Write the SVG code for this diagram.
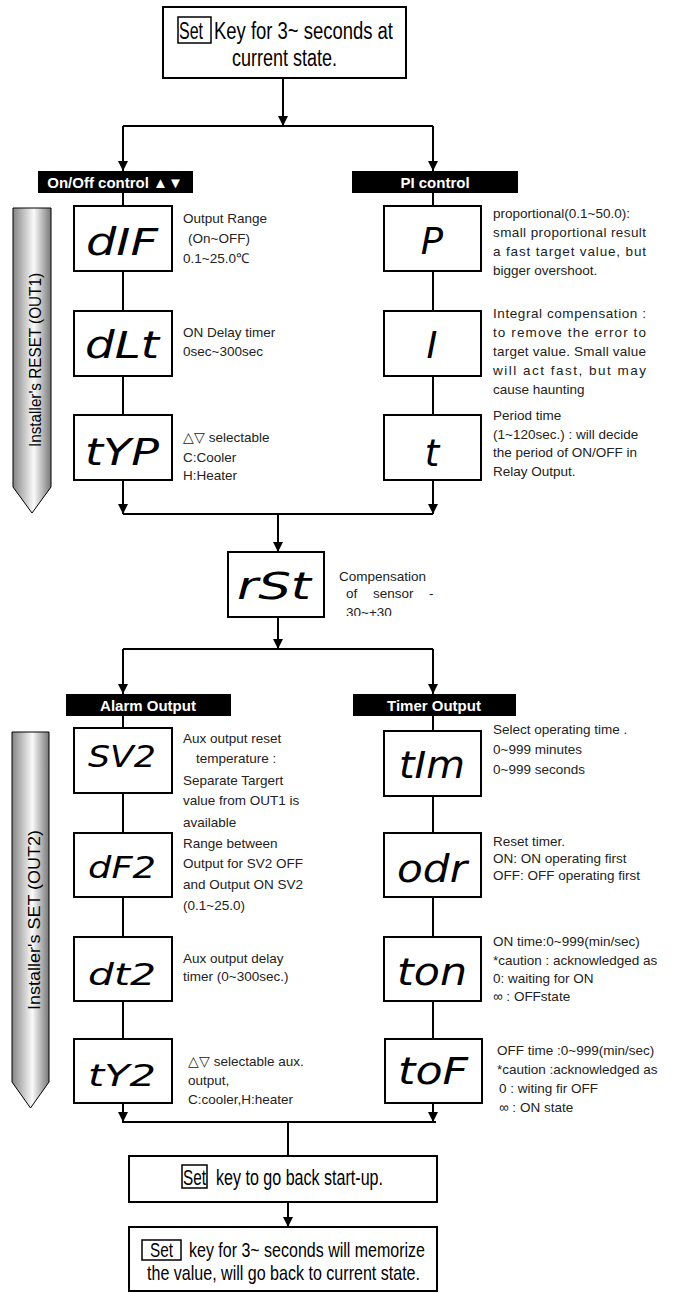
<svg xmlns="http://www.w3.org/2000/svg" width="676" height="1293" viewBox="0 0 676 1293">
<style>
.box{fill:#fff;stroke:#000;stroke-width:2}
.bar{fill:#000}
.bart{font-family:"Liberation Sans",Arial,sans-serif;font-size:15px;font-weight:bold;fill:#fff;text-anchor:middle}
.seg{font-family:"DejaVu Sans",sans-serif;font-style:italic;font-size:37px;fill:#000;text-anchor:middle}
.segs{font-family:"DejaVu Sans",sans-serif;font-style:italic;font-size:30px;fill:#000;text-anchor:middle}
.d{font-family:"Liberation Sans",Arial,sans-serif;font-size:13.5px;fill:#222}
.big{font-family:"Liberation Sans",Arial,sans-serif;fill:#000}
.side{font-family:"Liberation Sans",Arial,sans-serif;font-size:17px;fill:#000;text-anchor:middle}
.con{fill:none;stroke:#000;stroke-width:2}
.keyb{fill:none;stroke:#000;stroke-width:1.5}
</style>
<defs>
<marker id="ah" viewBox="0 0 10 10" refX="10" refY="5" markerWidth="10" markerHeight="11" markerUnits="userSpaceOnUse" orient="auto">
<path d="M0,0 L10,5 L0,10 z" fill="#000"/>
</marker>
<linearGradient id="sg" x1="0" y1="0" x2="1" y2="0">
<stop offset="0" stop-color="#858585"/>
<stop offset="0.55" stop-color="#fafafa"/>
<stop offset="1" stop-color="#777"/>
</linearGradient>
<clipPath id="rstclip"><rect x="330" y="560" width="120" height="56"/></clipPath>
</defs>

<g id="connectors">
<path class="con" d="M283,78 V126" marker-end="url(#ah)"/>
<path class="con" d="M123,126 H433"/>
<path class="con" d="M123,126 V171" marker-end="url(#ah)"/>
<path class="con" d="M433,126 V171" marker-end="url(#ah)"/>
<path class="con" d="M123,193 V206 M123,271 V311 M123,376 V415"/>
<path class="con" d="M123,480 V514" marker-end="url(#ah)"/>
<path class="con" d="M433,193 V206 M433,271 V311 M433,376 V415"/>
<path class="con" d="M433,480 V514" marker-end="url(#ah)"/>
<path class="con" d="M123,514 H433"/>
<path class="con" d="M278,514 V552" marker-end="url(#ah)"/>
<path class="con" d="M278,617 V649" marker-end="url(#ah)"/>
<path class="con" d="M123,649 H433"/>
<path class="con" d="M123,649 V694" marker-end="url(#ah)"/>
<path class="con" d="M433,649 V694" marker-end="url(#ah)"/>
<path class="con" d="M123,716 V728 M123,793 V833 M123,897 V937 M123,1001 V1039"/>
<path class="con" d="M123,1103 V1122" marker-end="url(#ah)"/>
<path class="con" d="M433,716 V731 M433,796 V833 M433,897 V937 M433,1001 V1039"/>
<path class="con" d="M433,1103 V1122" marker-end="url(#ah)"/>
<path class="con" d="M122,1122 H436"/>
<path class="con" d="M288,1122 V1156"/>
<path class="con" d="M288,1202 V1227" marker-end="url(#ah)"/>
</g>

<g id="start">
<rect class="box" x="163" y="7" width="243" height="71"/>
<rect class="keyb" x="178" y="17" width="33" height="26"/>
<text class="big" x="179" y="39" font-size="23" textLength="24" lengthAdjust="spacingAndGlyphs">Set</text>
<text class="big" x="214" y="39" font-size="23" textLength="179" lengthAdjust="spacingAndGlyphs">Key for 3~ seconds at</text>
<text class="big" x="232" y="66" font-size="23" textLength="105" lengthAdjust="spacingAndGlyphs">current state.</text>
</g>

<g id="side1">
<path d="M13,208 H51 V487 L32,513 L13,487 Z" fill="url(#sg)" stroke="#000" stroke-width="1"/>
<text class="side" x="41" y="360" transform="rotate(-90 41 360)" textLength="174" lengthAdjust="spacingAndGlyphs">Installer's RESET (OUT1)</text>
</g>

<g id="onoff">
<rect class="bar" x="38" y="171" width="155" height="22"/>
<text class="bart" x="115" y="188">On/Off control ▲▼</text>
</g>
<g id="pi">
<rect class="bar" x="352" y="171" width="166" height="22"/>
<text class="bart" x="435" y="188">PI control</text>
</g>

<g id="dif">
<rect class="box" x="74" y="206" width="98" height="65"/>
<text class="seg" x="122" y="255" textLength="72" lengthAdjust="spacingAndGlyphs">dIF</text>
<text class="d" x="183" y="223">Output Range</text>
<text class="d" x="188" y="243">(On~OFF)</text>
<text class="d" x="183" y="263">0.1~25.0℃</text>
</g>
<g id="dlt">
<rect class="box" x="74" y="311" width="98" height="65"/>
<text class="seg" x="122" y="358" textLength="74" lengthAdjust="spacingAndGlyphs">dLt</text>
<text class="d" x="183" y="337">ON Delay timer</text>
<text class="d" x="183" y="356">0sec~300sec</text>
</g>
<g id="typ">
<rect class="box" x="74" y="415" width="98" height="65"/>
<text class="seg" x="122" y="465" textLength="74" lengthAdjust="spacingAndGlyphs">tYP</text>
<text class="d" x="183" y="442">△▽ selectable</text>
<text class="d" x="183" y="462">C:Cooler</text>
<text class="d" x="183" y="480">H:Heater</text>
</g>

<g id="p">
<rect class="box" x="384" y="206" width="97" height="65"/>
<text class="seg" x="432" y="254">P</text>
<text class="d" x="493" y="218">proportional(0.1~50.0):</text>
<text class="d" x="493" y="237" textLength="153" lengthAdjust="spacing">small proportional result</text>
<text class="d" x="493" y="256" textLength="153" lengthAdjust="spacing">a fast target value, but</text>
<text class="d" x="493" y="275">bigger overshoot.</text>
</g>
<g id="i">
<rect class="box" x="384" y="311" width="97" height="65"/>
<text class="seg" x="432" y="358">I</text>
<text class="d" x="493" y="318" textLength="153" lengthAdjust="spacing">Integral compensation :</text>
<text class="d" x="493" y="337" textLength="153" lengthAdjust="spacing">to remove the error to</text>
<text class="d" x="493" y="356" textLength="153" lengthAdjust="spacing">target value. Small value</text>
<text class="d" x="493" y="375" textLength="153" lengthAdjust="spacing">will act fast, but may</text>
<text class="d" x="493" y="394">cause haunting</text>
</g>
<g id="t">
<rect class="box" x="384" y="415" width="97" height="65"/>
<text class="seg" x="432" y="466">t</text>
<text class="d" x="493" y="420">Period time</text>
<text class="d" x="493" y="439">(1~120sec.) : will decide</text>
<text class="d" x="493" y="457">the period of ON/OFF in</text>
<text class="d" x="493" y="476">Relay Output.</text>
</g>

<g id="rst">
<rect class="box" x="228" y="552" width="96" height="65"/>
<text class="seg" x="274" y="599" textLength="74" lengthAdjust="spacingAndGlyphs">rSt</text>
<text class="d" x="339" y="581">Compensation</text>
<text class="d" y="598"><tspan x="346">of</tspan><tspan x="373">sensor</tspan><tspan x="429">-</tspan></text>
<text class="d" x="346" y="617" clip-path="url(#rstclip)">30~+30</text>
</g>

<g id="side2">
<path d="M12,732 H49 V1082 L30.5,1108 L12,1082 Z" fill="url(#sg)" stroke="#000" stroke-width="1"/>
<text class="side" x="40" y="920" transform="rotate(-90 40 920)" textLength="180" lengthAdjust="spacingAndGlyphs">Installer's SET (OUT2)</text>
</g>

<g id="alarm">
<rect class="bar" x="66" y="694" width="165" height="22"/>
<text class="bart" x="148" y="711">Alarm Output</text>
</g>
<g id="timer">
<rect class="bar" x="353" y="694" width="163" height="22"/>
<text class="bart" x="434" y="711">Timer Output</text>
</g>

<g id="sv2">
<rect class="box" x="74" y="728" width="98" height="65"/>
<text class="segs" x="122" y="767" textLength="68" lengthAdjust="spacingAndGlyphs">SV2</text>
<text class="d" x="183" y="743">Aux output reset</text>
<text class="d" x="196" y="763">temperature :</text>
<text class="d" x="183" y="785">Separate Targert</text>
<text class="d" x="183" y="805">value from OUT1 is</text>
<text class="d" x="183" y="827">available</text>
</g>
<g id="df2">
<rect class="box" x="74" y="833" width="98" height="64"/>
<text class="segs" x="122" y="878" textLength="68" lengthAdjust="spacingAndGlyphs">dF2</text>
<text class="d" x="183" y="848">Range between</text>
<text class="d" x="183" y="868">Output for SV2 OFF</text>
<text class="d" x="183" y="889">and Output ON SV2</text>
<text class="d" x="183" y="910">(0.1~25.0)</text>
</g>
<g id="dt2">
<rect class="box" x="74" y="937" width="98" height="64"/>
<text class="segs" x="122" y="985" textLength="68" lengthAdjust="spacingAndGlyphs">dt2</text>
<text class="d" x="183" y="963">Aux output delay</text>
<text class="d" x="183" y="981">timer (0~300sec.)</text>
</g>
<g id="ty2">
<rect class="box" x="74" y="1039" width="98" height="64"/>
<text class="segs" x="122" y="1086" textLength="68" lengthAdjust="spacingAndGlyphs">tY2</text>
<text class="d" x="188" y="1066">△▽  selectable aux.</text>
<text class="d" x="188" y="1085">output,</text>
<text class="d" x="188" y="1104">C:cooler,H:heater</text>
</g>

<g id="tim">
<rect class="box" x="384" y="731" width="97" height="65"/>
<text class="seg" x="432" y="778" textLength="66" lengthAdjust="spacingAndGlyphs">tIm</text>
<text class="d" x="493" y="734">Select operating time .</text>
<text class="d" x="493" y="754">0~999 minutes</text>
<text class="d" x="493" y="774">0~999 seconds</text>
</g>
<g id="odr">
<rect class="box" x="384" y="833" width="97" height="64"/>
<text class="seg" x="432" y="882" textLength="70" lengthAdjust="spacingAndGlyphs">odr</text>
<text class="d" x="493" y="846">Reset timer.</text>
<text class="d" x="493" y="863">ON: ON operating first</text>
<text class="d" x="493" y="880">OFF: OFF operating first</text>
</g>
<g id="ton">
<rect class="box" x="384" y="937" width="97" height="64"/>
<text class="seg" x="432" y="985" textLength="70" lengthAdjust="spacingAndGlyphs">ton</text>
<text class="d" x="493" y="946">ON time:0~999(min/sec)</text>
<text class="d" x="493" y="965">*caution : acknowledged as</text>
<text class="d" x="493" y="983">0: waiting for ON</text>
<text class="d" x="493" y="1001">∞ : OFFstate</text>
</g>
<g id="tof">
<rect class="box" x="385" y="1039" width="97" height="64"/>
<text class="seg" x="433" y="1084" textLength="70" lengthAdjust="spacingAndGlyphs">toF</text>
<text class="d" x="497" y="1055">OFF time :0~999(min/sec)</text>
<text class="d" x="497" y="1074">*caution :acknowledged as</text>
<text class="d" x="499" y="1093">0 : witing fir OFF</text>
<text class="d" x="499" y="1112">∞ : ON state</text>
</g>

<g id="back">
<rect class="box" x="129" y="1156" width="308" height="46"/>
<rect class="keyb" x="182" y="1165" width="25" height="23"/>
<text class="big" x="183" y="1185" font-size="22" textLength="23" lengthAdjust="spacingAndGlyphs">Set</text>
<text class="big" x="216" y="1185" font-size="22" textLength="167" lengthAdjust="spacingAndGlyphs">key to go back start-up.</text>
</g>

<g id="memorize">
<rect class="box" x="129" y="1227" width="308" height="64"/>
<rect class="keyb" x="142" y="1240" width="39" height="20"/>
<text class="big" x="150" y="1257" font-size="21" textLength="23" lengthAdjust="spacingAndGlyphs">Set</text>
<text class="big" x="189" y="1257" font-size="21" textLength="236" lengthAdjust="spacingAndGlyphs">key for 3~ seconds will memorize</text>
<text class="big" x="147" y="1280" font-size="21" textLength="273" lengthAdjust="spacingAndGlyphs">the value, will go back to current state.</text>
</g>
</svg>
